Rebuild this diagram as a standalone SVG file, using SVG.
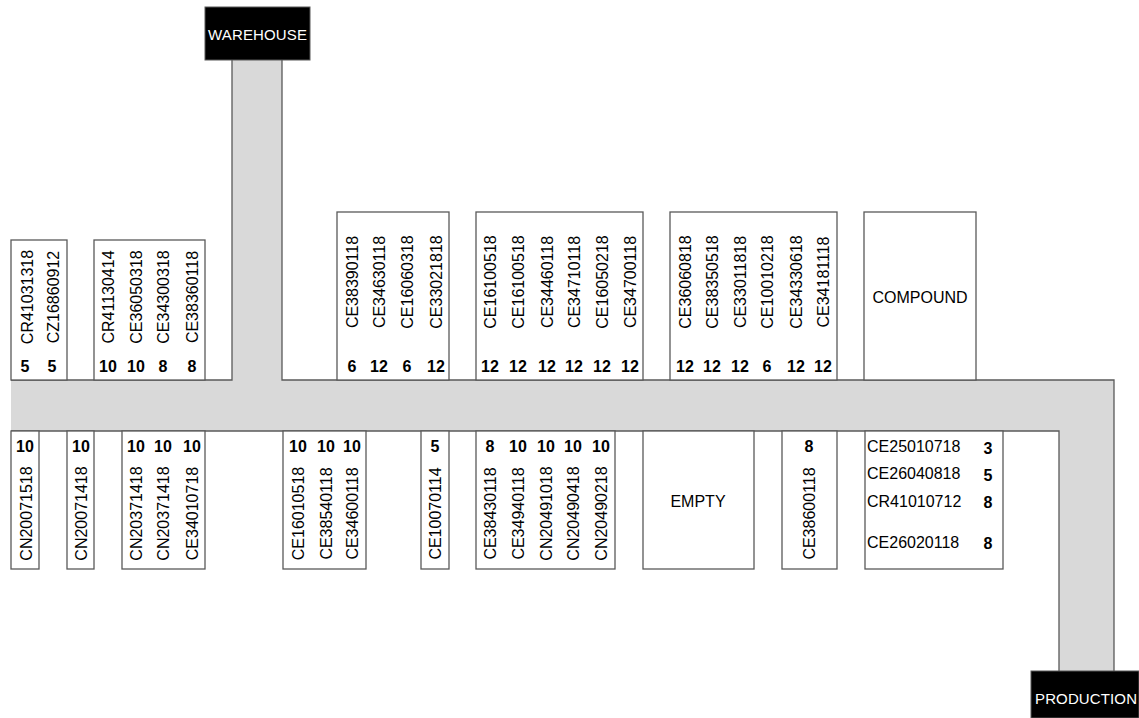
<svg xmlns="http://www.w3.org/2000/svg" width="1139" height="718" viewBox="0 0 1139 718">
<style>
text{font-family:"Liberation Sans",Arial,sans-serif;font-size:16px;fill:#000}
.v{text-anchor:middle}
.n{font-weight:bold;text-anchor:middle}
.w{fill:#fff;font-size:15px;text-anchor:middle}
.c{text-anchor:middle}
.box{fill:#fff;stroke:#595959;stroke-width:1.3}
.blk{fill:#000;stroke:#595959;stroke-width:1}
.road{fill:#d9d9d9;stroke:none}
.edge{fill:none;stroke:#595959;stroke-width:1.3}
</style>
<rect width="1139" height="718" fill="#fff"/>
<g id="connectors">
<polygon class="road" points="232,60 232,380 11,380 11,431 1059,431 1059,671 1114,671 1114,380 282,380 282,60"/>
<polyline class="edge" points="232,60 232,380 11,380"/>
<polyline class="edge" points="11,431 1059,431 1059,671"/>
<polyline class="edge" points="1114,671 1114,380 282,380 282,60"/>
</g>
<g id="warehouse">
<rect class="blk" x="205" y="7" width="105" height="53"/>
<text class="w" x="257.5" y="40" textLength="99">WAREHOUSE</text>
</g>
<g id="production">
<rect class="blk" x="1031" y="671" width="108" height="47"/>
<text class="w" x="1086" y="704" textLength="102">PRODUCTION</text>
</g>
<g id="t1">
<rect class="box" x="11" y="240" width="56" height="140"/>
<text class="v" transform="translate(27,297) rotate(-90)" y="5.7">CR41031318</text>
<text class="v" transform="translate(53,297) rotate(-90)" y="5.7">CZ16860912</text>
<text class="n" x="25" y="372">5</text><text class="n" x="52" y="372">5</text>
</g>
<g id="t2">
<rect class="box" x="94" y="240" width="111" height="140"/>
<text class="v" transform="translate(108,297) rotate(-90)" y="5.7">CR41130414</text>
<text class="v" transform="translate(136,297) rotate(-90)" y="5.7">CE36050318</text>
<text class="v" transform="translate(163,297) rotate(-90)" y="5.7">CE34300318</text>
<text class="v" transform="translate(192,297) rotate(-90)" y="5.7">CE38360118</text>
<text class="n" x="108" y="372">10</text><text class="n" x="136" y="372">10</text><text class="n" x="163" y="372">8</text><text class="n" x="192" y="372">8</text>
</g>
<g id="t3">
<rect class="box" x="337" y="212" width="112" height="168"/>
<text class="v" transform="translate(352,282) rotate(-90)" y="5.7">CE38390118</text>
<text class="v" transform="translate(379,282) rotate(-90)" y="5.7">CE34630118</text>
<text class="v" transform="translate(407,282) rotate(-90)" y="5.7">CE16060318</text>
<text class="v" transform="translate(436,282) rotate(-90)" y="5.7">CE33021818</text>
<text class="n" x="352" y="372">6</text><text class="n" x="379" y="372">12</text><text class="n" x="407" y="372">6</text><text class="n" x="436" y="372">12</text>
</g>
<g id="t4">
<rect class="box" x="476" y="212" width="167" height="168"/>
<text class="v" transform="translate(490,282) rotate(-90)" y="5.7">CE16100518</text>
<text class="v" transform="translate(518,282) rotate(-90)" y="5.7">CE16100518</text>
<text class="v" transform="translate(547,282) rotate(-90)" y="5.7">CE34460118</text>
<text class="v" transform="translate(574,282) rotate(-90)" y="5.7">CE34710118</text>
<text class="v" transform="translate(602,282) rotate(-90)" y="5.7">CE16050218</text>
<text class="v" transform="translate(630,282) rotate(-90)" y="5.7">CE34700118</text>
<text class="n" x="490" y="372">12</text><text class="n" x="518" y="372">12</text><text class="n" x="547" y="372">12</text><text class="n" x="574" y="372">12</text><text class="n" x="602" y="372">12</text><text class="n" x="630" y="372">12</text>
</g>
<g id="t5">
<rect class="box" x="670" y="212" width="167" height="168"/>
<text class="v" transform="translate(685,282) rotate(-90)" y="5.7">CE36060818</text>
<text class="v" transform="translate(712,282) rotate(-90)" y="5.7">CE38350518</text>
<text class="v" transform="translate(740,282) rotate(-90)" y="5.7">CE33011818</text>
<text class="v" transform="translate(767,282) rotate(-90)" y="5.7">CE10010218</text>
<text class="v" transform="translate(796,282) rotate(-90)" y="5.7">CE34330618</text>
<text class="v" transform="translate(823,282) rotate(-90)" y="5.7">CE34181118</text>
<text class="n" x="685" y="372">12</text><text class="n" x="712" y="372">12</text><text class="n" x="740" y="372">12</text><text class="n" x="767" y="372">6</text><text class="n" x="796" y="372">12</text><text class="n" x="823" y="372">12</text>
</g>
<g id="compound">
<rect class="box" x="864" y="212" width="112" height="168"/>
<text class="c" x="920" y="303">COMPOUND</text>
</g>
<g id="b1">
<rect class="box" x="11" y="431" width="28" height="138"/>
<text class="n" x="25" y="452">10</text>
<text class="v" transform="translate(26,513.5) rotate(-90)" y="5.7">CN20071518</text>
</g>
<g id="b2">
<rect class="box" x="67" y="431" width="27" height="138"/>
<text class="n" x="81" y="452">10</text>
<text class="v" transform="translate(81,513.5) rotate(-90)" y="5.7">CN20071418</text>
</g>
<g id="b3">
<rect class="box" x="122" y="431" width="83" height="138"/>
<text class="n" x="136" y="452">10</text><text class="n" x="163" y="452">10</text><text class="n" x="192" y="452">10</text>
<text class="v" transform="translate(136,513.5) rotate(-90)" y="5.7">CN20371418</text>
<text class="v" transform="translate(163,513.5) rotate(-90)" y="5.7">CN20371418</text>
<text class="v" transform="translate(192,513.5) rotate(-90)" y="5.7">CE34010718</text>
</g>
<g id="b4">
<rect class="box" x="283" y="431" width="83" height="138"/>
<text class="n" x="298" y="452">10</text><text class="n" x="326" y="452">10</text><text class="n" x="352" y="452">10</text>
<text class="v" transform="translate(298,513.5) rotate(-90)" y="5.7">CE16010518</text>
<text class="v" transform="translate(326,513.5) rotate(-90)" y="5.7">CE38540118</text>
<text class="v" transform="translate(352,513.5) rotate(-90)" y="5.7">CE34600118</text>
</g>
<g id="b5">
<rect class="box" x="421" y="431" width="28" height="138"/>
<text class="n" x="435" y="452">5</text>
<text class="v" transform="translate(435,513.5) rotate(-90)" y="5.7">CE10070114</text>
</g>
<g id="b6">
<rect class="box" x="476" y="431" width="139" height="138"/>
<text class="n" x="490" y="452">8</text><text class="n" x="518" y="452">10</text><text class="n" x="546" y="452">10</text><text class="n" x="573" y="452">10</text><text class="n" x="601" y="452">10</text>
<text class="v" transform="translate(490,513.5) rotate(-90)" y="5.7">CE38430118</text>
<text class="v" transform="translate(518,513.5) rotate(-90)" y="5.7">CE34940118</text>
<text class="v" transform="translate(546,513.5) rotate(-90)" y="5.7">CN20491018</text>
<text class="v" transform="translate(573,513.5) rotate(-90)" y="5.7">CN20490418</text>
<text class="v" transform="translate(601,513.5) rotate(-90)" y="5.7">CN20490218</text>
</g>
<g id="empty">
<rect class="box" x="643" y="431" width="111" height="138"/>
<text class="c" x="698" y="507">EMPTY</text>
</g>
<g id="b8">
<rect class="box" x="782" y="431" width="55" height="138"/>
<text class="n" x="809" y="452">8</text>
<text class="v" transform="translate(809,513.5) rotate(-90)" y="5.7">CE38600118</text>
</g>
<g id="b9">
<rect class="box" x="865" y="431" width="138" height="138"/>
<text x="867" y="452">CE25010718</text><text class="n" x="988" y="454">3</text>
<text x="867" y="479">CE26040818</text><text class="n" x="988" y="481">5</text>
<text x="867" y="507">CR41010712</text><text class="n" x="988" y="508">8</text>
<text x="867" y="548">CE26020118</text><text class="n" x="988" y="549">8</text>
</g>
</svg>
